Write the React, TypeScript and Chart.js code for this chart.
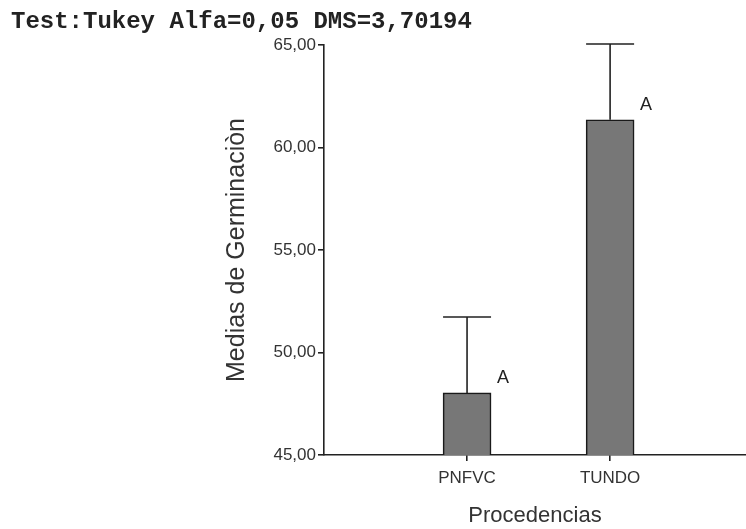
import React, { useEffect, useRef } from "react";
import { Chart, registerables } from "chart.js";

Chart.register(...registerables);

const categories = ["PNFVC", "TUNDO"];
const means = [48.03, 61.35];
const errors = [3.70194, 3.70194];
const letters = ["A", "A"];
const yTicks = [45, 50, 55, 60, 65];
const titleText = "Test:Tukey Alfa=0,05 DMS=3,70194";
const yTitle = "Medias de Germinaciòn";
const xTitle = "Procedencias";

const SANS = '"Liberation Sans", Arial, sans-serif';
const INK = "#222222";

const extrasPlugin = {
  id: "extras",
  afterDatasetsDraw(chart: any) {
    const ctx = chart.ctx;
    const yScale = chart.scales.y;
    const meta = chart.getDatasetMeta(0);
    ctx.save();
    meta.data.forEach((bar: any, i: number) => {
      const top = yScale.getPixelForValue(means[i] + errors[i]);
      const half = bar.width / 2;
      ctx.strokeStyle = INK;
      ctx.lineWidth = 1.6;
      ctx.beginPath();
      ctx.moveTo(bar.x, bar.y);
      ctx.lineTo(bar.x, top);
      ctx.moveTo(bar.x - half, top);
      ctx.lineTo(bar.x + half, top);
      ctx.stroke();
      ctx.fillStyle = INK;
      ctx.font = `18px ${SANS}`;
      ctx.textAlign = "center";
      ctx.textBaseline = "middle";
      ctx.fillText(letters[i], bar.x + half + 12, bar.y - 15);
    });
    ctx.font = `bold 24px "Liberation Mono", "Courier New", monospace`;
    ctx.textAlign = "left";
    ctx.textBaseline = "alphabetic";
    ctx.fillStyle = INK;
    ctx.fillText(titleText, 11, 28);
    ctx.restore();
  },
};

export default function App() {
  const ref = useRef<HTMLCanvasElement>(null);
  useEffect(() => {
    if (!ref.current) return;
    const chart = new Chart(ref.current, {
      type: "bar",
      data: {
        datasets: [
          {
            data: categories.map((_, i) => ({ x: i + 1, y: means[i] })),
            backgroundColor: "#777777",
            borderColor: "#1a1a1a",
            borderWidth: 1.6,
            borderSkipped: false,
            barThickness: 48,
          },
        ],
      },
      options: {
        animation: false,
        responsive: true,
        maintainAspectRatio: false,
        layout: { padding: { left: 222, top: 45, right: 0, bottom: 0 } },
        plugins: { legend: { display: false }, tooltip: { enabled: false }, title: { display: false } },
        scales: {
          x: {
            type: "linear",
            min: 0,
            max: 2.95,
            offset: false,
            grid: { offset: false, drawOnChartArea: false, drawTicks: true, tickLength: 6, color: INK, lineWidth: 1.6 },
            border: { display: true, color: INK, width: 1.6 },
            afterBuildTicks: (scale: any) => {
              scale.ticks = categories.map((_, i) => ({ value: i + 1 }));
            },
            afterFit: (scale: any) => {
              scale.height = 74;
            },
            ticks: {
              autoSkip: false,
              maxRotation: 0,
              padding: 7,
              color: "#333",
              font: { family: SANS, size: 17 },
              callback: (v: any) => categories[Math.round(Number(v)) - 1] ?? "",
            },
            title: { display: true, text: xTitle, color: "#333", padding: 0, font: { family: SANS, size: 22 } },
          },
          y: {
            type: "linear",
            min: 45,
            max: 65,
            afterBuildTicks: (scale: any) => {
              scale.ticks = yTicks.map((v) => ({ value: v }));
            },
            afterFit: (scale: any) => {
              scale.width = 102;
            },
            grid: { drawOnChartArea: false, drawTicks: true, tickLength: 6, color: INK, lineWidth: 1.6 },
            border: { display: true, color: INK, width: 1.6 },
            ticks: {
              padding: 2,
              color: "#333",
              font: { family: SANS, size: 17 },
              callback: (v: any) => Number(v).toFixed(2).replace(".", ","),
            },
            title: { display: true, text: yTitle, color: "#333", padding: 0, font: { family: SANS, size: 25 } },
          },
        },
      },
      plugins: [extrasPlugin],
    } as any);
    return () => chart.destroy();
  }, []);
  return (
    <div style={{ position: "fixed", left: 0, top: 0, width: 746, height: 529, background: "#fff" }}>
      <canvas ref={ref} />
    </div>
  );
}
